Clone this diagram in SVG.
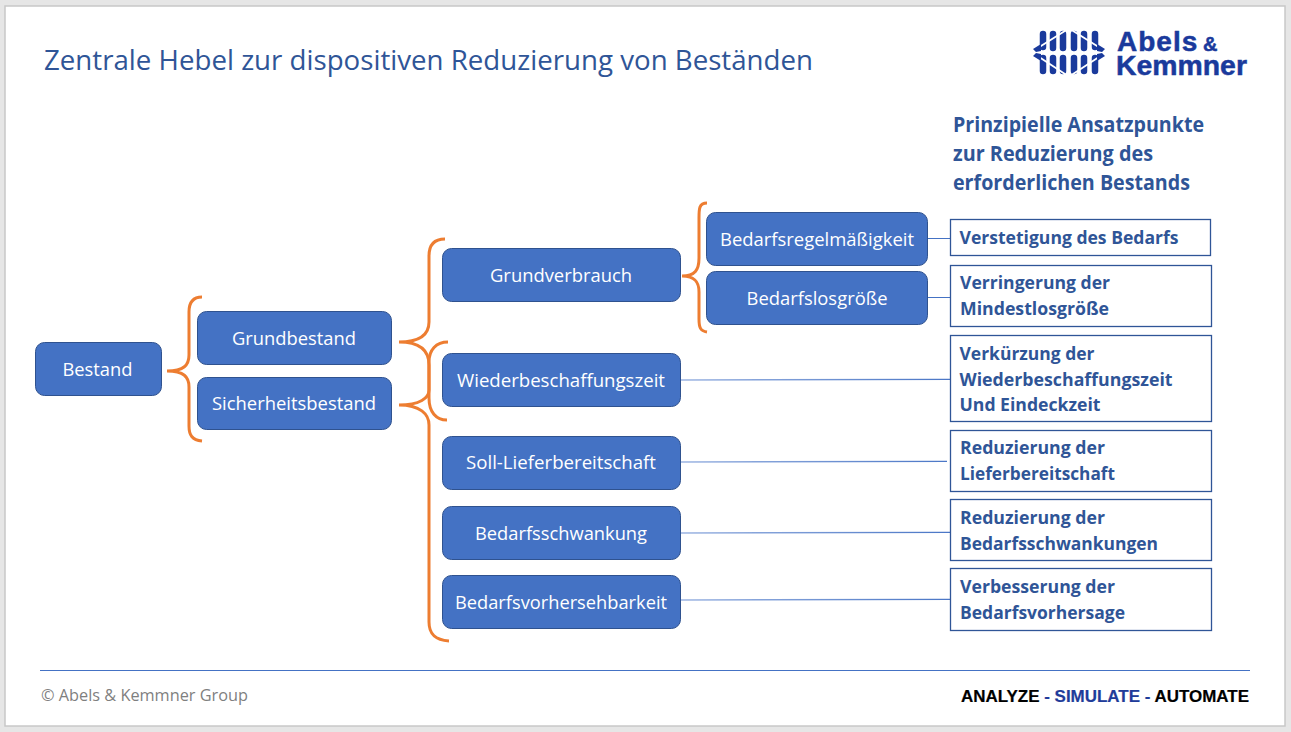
<svg xmlns="http://www.w3.org/2000/svg" width="1291" height="732" viewBox="0 0 1291 732">
<defs>
<linearGradient id="fade" gradientUnits="userSpaceOnUse" x1="681" y1="0" x2="950" y2="0"><stop offset="0" stop-color="#9db5e2"/><stop offset="1" stop-color="#4a76c6"/></linearGradient>
</defs>
<style>
.t{font-family:"Open Sans","Noto Sans",sans-serif}
.n rect{fill:#4472c4;stroke:#2f528f;stroke-width:1}
.n text{font-family:"Open Sans","Noto Sans",sans-serif;font-size:18px;fill:#fff;text-anchor:middle}
.b rect{fill:#fff;stroke:#2f5597;stroke-width:1.3}
.b text{font-family:"Open Sans","Noto Sans",sans-serif;font-size:17.5px;font-weight:700;fill:#2f5597}
.br{fill:none;stroke:#ed7d31;stroke-width:3}
.ln{stroke:#4472c4;stroke-width:1.2;fill:none}
.lg{stroke:url(#fade);stroke-width:1.4;fill:none}
.logo{stroke:#1a3a9c;stroke-linecap:round;fill:none}
</style>
<rect width="1291" height="732" fill="#e6e6e6"/>
<rect x="5" y="6" width="1280" height="720" fill="#fff" stroke="#c8c8c8" stroke-width="1.5"/>
<text class="t" x="44" y="70" font-size="27.5" fill="#2f5597" textLength="769" lengthAdjust="spacingAndGlyphs">Zentrale Hebel zur dispositiven Reduzierung von Beständen</text>
<g id="logo">
<path class="logo" stroke-width="6.500" d="M1043 34V47M1053 34V48M1063 34V48M1074 34V48M1084 34V48M1095 34V47M1043 58V71M1053 58V71M1063 58V71M1074 58V71M1084 58V71M1095 58V71"/>
<path stroke="#fff" stroke-width="1.800" fill="none" d="M1033 51L1068 29M1105 51L1070 29M1033 53L1068 76M1105 53L1070 76"/>
<path fill="#1a3a9c" d="M1033 49L1041 44V51L1036 52ZM1105 49L1097 44V51L1102 52ZM1033 56L1041 61V54L1036 53ZM1105 56L1097 61V54L1102 53Z"/>
<text font-family="Liberation Sans,sans-serif" font-weight="700" fill="#1a3a9c" stroke="#1a3a9c" stroke-width="0.500"><tspan x="1117" y="51" font-size="28" letter-spacing="1">Abels</tspan><tspan x="1203" y="51" font-size="20">&amp;</tspan><tspan x="1116" y="74.500" font-size="28.400">Kemmner</tspan></text>
</g>
<g id="heading" class="t" font-size="20.5" font-weight="700" fill="#2f5597">
<text x="953" y="132" textLength="251" lengthAdjust="spacingAndGlyphs">Prinzipielle Ansatzpunkte</text>
<text x="953" y="161" textLength="200" lengthAdjust="spacingAndGlyphs">zur Reduzierung des</text>
<text x="953" y="190" textLength="237" lengthAdjust="spacingAndGlyphs">erforderlichen Bestands</text>
</g>
<g id="connectors">
<path class="br" d="M202 297C192 297 189 303 189 312V355C189 365 184 371 167 371C184 371 189 377 189 387V426C189 435 192 440 202 441"/>
<path class="br" d="M445 239C433 239 429 246 429 256V322C429 335 420 342 399 342C420 342 429 350 429 365V390C429 398 420 405 399 405C420 405 429 414 429 425V622C429 634 435 640 449 641"/>
<path class="br" d="M448 342C436 342 429 350 429 362V398C429 412 436 420 447 420"/>
<path class="br" d="M707 203C699 203 699 209 699 218V258C699 270 695 276 682 276C695 276 699 282 699 292V319C699 327 700 331 707 332"/>
<path class="ln" d="M928 238.500H950M928 297.500H950"/>
<path class="lg" d="M681 380L950 379.400M681 462L947 461.400M681 533L950 532.400M681 600L950 599.400"/>
<path d="M40 670.500H1250" stroke="#4472c4" stroke-width="1" fill="none"/>
</g>
<g id="bestand" class="n"><rect x="35.500" y="342.500" width="126" height="53" rx="9"/><text x="97.500" y="376" textLength="70" lengthAdjust="spacingAndGlyphs">Bestand</text></g>
<g id="grundbestand" class="n"><rect x="197.500" y="311.500" width="194" height="53" rx="9"/><text x="294" y="345" textLength="124" lengthAdjust="spacingAndGlyphs">Grundbestand</text></g>
<g id="sicherheitsbestand" class="n"><rect x="197.500" y="377.500" width="194" height="52" rx="9"/><text x="294" y="410" textLength="164" lengthAdjust="spacingAndGlyphs">Sicherheitsbestand</text></g>
<g id="grundverbrauch" class="n"><rect x="442.500" y="248.500" width="238" height="53" rx="9"/><text x="561" y="282" textLength="142" lengthAdjust="spacingAndGlyphs">Grundverbrauch</text></g>
<g id="wiederbeschaffungszeit" class="n"><rect x="442.500" y="353.500" width="238" height="53" rx="9"/><text x="561" y="387" textLength="208" lengthAdjust="spacingAndGlyphs">Wiederbeschaffungszeit</text></g>
<g id="soll" class="n"><rect x="442.500" y="436.500" width="238" height="53" rx="9"/><text x="561" y="469" textLength="190" lengthAdjust="spacingAndGlyphs">Soll-Lieferbereitschaft</text></g>
<g id="schwankung" class="n"><rect x="442.500" y="506.500" width="238" height="53" rx="9"/><text x="561" y="540" textLength="172" lengthAdjust="spacingAndGlyphs">Bedarfsschwankung</text></g>
<g id="vorhersehbarkeit" class="n"><rect x="442.500" y="575.500" width="238" height="53" rx="9"/><text x="561" y="609" textLength="212" lengthAdjust="spacingAndGlyphs">Bedarfsvorhersehbarkeit</text></g>
<g id="regelmaessigkeit" class="n"><rect x="706.500" y="212.500" width="221" height="53" rx="9"/><text x="817" y="246" textLength="194" lengthAdjust="spacingAndGlyphs">Bedarfsregelmäßigkeit</text></g>
<g id="losgroesse" class="n"><rect x="706.500" y="271.500" width="221" height="53" rx="9"/><text x="817" y="305" textLength="141" lengthAdjust="spacingAndGlyphs">Bedarfslosgröße</text></g>
<g id="box1" class="b"><rect x="950.500" y="219.500" width="260" height="36"/><text x="959.500" y="244" textLength="219" lengthAdjust="spacingAndGlyphs">Verstetigung des Bedarfs</text></g>
<g id="box2" class="b"><rect x="950.500" y="265.500" width="261" height="61"/><text x="960" y="289" textLength="150" lengthAdjust="spacingAndGlyphs">Verringerung der</text><text x="960" y="315" textLength="149" lengthAdjust="spacingAndGlyphs">Mindestlosgröße</text></g>
<g id="box3" class="b"><rect x="950.500" y="335.500" width="261" height="86"/><text x="959.500" y="360" textLength="135" lengthAdjust="spacingAndGlyphs">Verkürzung der</text><text x="959.500" y="386" textLength="213" lengthAdjust="spacingAndGlyphs">Wiederbeschaffungszeit</text><text x="959.500" y="411" textLength="141" lengthAdjust="spacingAndGlyphs">Und Eindeckzeit</text></g>
<g id="box4" class="b"><rect x="950.500" y="430.500" width="261" height="61"/><text x="960" y="454" textLength="145" lengthAdjust="spacingAndGlyphs">Reduzierung der</text><text x="960" y="480" textLength="155" lengthAdjust="spacingAndGlyphs">Lieferbereitschaft</text></g>
<g id="box5" class="b"><rect x="950.500" y="499.500" width="261" height="61"/><text x="960" y="524" textLength="145" lengthAdjust="spacingAndGlyphs">Reduzierung der</text><text x="960" y="550" textLength="198" lengthAdjust="spacingAndGlyphs">Bedarfsschwankungen</text></g>
<g id="box6" class="b"><rect x="950.500" y="568.500" width="261" height="62"/><text x="960" y="593" textLength="155" lengthAdjust="spacingAndGlyphs">Verbesserung der</text><text x="960" y="619" textLength="165" lengthAdjust="spacingAndGlyphs">Bedarfsvorhersage</text></g>
<g id="footer">
<text class="t" x="41" y="701" font-size="16.500" fill="#7f7f7f" textLength="207" lengthAdjust="spacingAndGlyphs">© Abels &amp; Kemmner Group</text>
<text x="961" y="702" font-family="Liberation Sans,sans-serif" font-size="16.500" font-weight="700" textLength="288" lengthAdjust="spacingAndGlyphs" fill="#000" stroke="#000" stroke-width="0.200">ANALYZE <tspan fill="#1f3c9a" stroke="#1f3c9a">- SIMULATE -</tspan> AUTOMATE</text>
</g>
</svg>
